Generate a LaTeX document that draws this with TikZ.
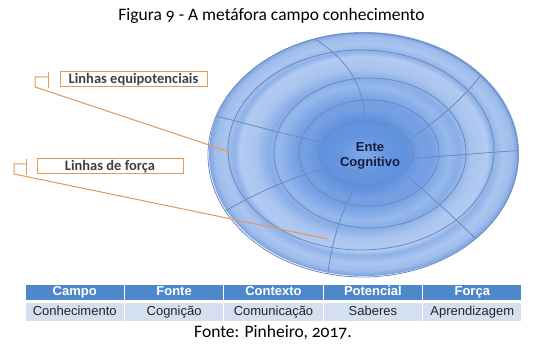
\documentclass[tikz,border=0pt]{standalone}
\usepackage{fontspec}
\setmainfont{Carlito}[Numbers=OldStyle]
\newfontfamily\arialfont{Liberation Sans}
\usetikzlibrary{positioning}

\definecolor{ringline}{RGB}{108,138,188}
\definecolor{calloutorange}{RGB}{230,152,88}
\definecolor{headblue}{RGB}{78,136,203}
\definecolor{rowblue}{RGB}{212,223,240}
\definecolor{entenavy}{RGB}{20,30,60}
% sphere tones, rim to centre
\definecolor{tone0}{RGB}{128,165,226}
\definecolor{tone1}{RGB}{160,190,236}
\definecolor{tone2}{RGB}{170,198,240}
\definecolor{tone3}{RGB}{142,178,232}
\definecolor{tone4}{RGB}{178,203,242}
\definecolor{tone5}{RGB}{168,196,239}
\definecolor{tone6}{RGB}{136,173,231}
\definecolor{tone7}{RGB}{150,184,236}
\definecolor{tone8}{RGB}{116,159,228}
\definecolor{tone9}{RGB}{118,160,228}
\definecolor{tone10}{RGB}{96,145,222}
\definecolor{tone11}{RGB}{104,151,225}
\definecolor{tone12}{RGB}{126,168,232}

\tikzset{
  ring/.style={draw=ringline, line width=0.8pt},
  callout/.style={draw=calloutorange, line width=1pt, inner sep=0pt,
    font=\bfseries\fontsize{14.5}{15}\selectfont, text=black!75},
  leader/.style={draw=calloutorange, line width=1pt},
  headcell/.style={fill=headblue, draw=white, line width=1.2pt, text=white,
    minimum width=99.4pt, minimum height=17pt, inner sep=0pt,
    text height=9.5pt, text depth=2.7pt,
    font=\arialfont\bfseries\fontsize{13}{15}\selectfont},
  valcell/.style={fill=rowblue, draw=white, line width=1.2pt, text=black!85,
    minimum width=99.4pt, minimum height=19pt, inner sep=0pt,
    text height=9.5pt, text depth=2.7pt,
    font=\arialfont\fontsize{13}{15}\selectfont},
}

\begin{document}
\begin{tikzpicture}[x=1pt,y=1pt,yscale=-1,xscale=1]
\useasboundingbox (0,0) rectangle (536,344);

% title
\node (title) at (271.5,16) {\fontsize{17.5}{20}\selectfont Figura 9 - A metáfora campo conhecimento};

% field sphere, filled band by band
\foreach \ra/\rb/\ca/\cb in {1.00/0.96/tone0/tone1, 0.96/0.90/tone1/tone2, 0.90/0.84/tone2/tone3,
    0.84/0.80/tone3/tone4, 0.80/0.70/tone4/tone5, 0.70/0.62/tone5/tone6, 0.62/0.56/tone6/tone7,
    0.56/0.44/tone7/tone8, 0.44/0.38/tone8/tone9, 0.38/0.28/tone9/tone10, 0.28/0.15/tone10/tone11,
    0.15/0.02/tone11/tone12}{
  \foreach \k in {0,...,7}{
    \pgfmathsetmacro\f{\ra-(\ra-\rb)*\k/8}
    \pgfmathsetmacro\p{100-100*\k/8}
    \fill [\ca!\p!\cb] (364,154) ellipse [x radius=155*\f, y radius=122*\f];
  }
}
\begin{scope}
\clip (363,155) ellipse [x radius=155, y radius=122];
% field lines
\draw [ring] (365,121) .. controls (363,80) and (345,55) .. (300,30);
\draw [ring] (413,137) .. controls (440,118) and (470,95) .. (495,55);
\draw [ring] (417,158) .. controls (450,156) and (490,152) .. (530,150);
\draw [ring] (407,176) .. controls (430,196) and (460,222) .. (495,258);
\draw [ring] (355,186) .. controls (340,215) and (330,245) .. (326,290);
\draw [ring] (327,168) .. controls (290,178) and (255,192) .. (200,226);
\draw [ring] (320,142) .. controls (280,133) and (240,122) .. (200,112);
\end{scope}
% equipotential lines
\draw [ring] (366,153) ellipse [x radius=47, y radius=32];
\draw [ring] (369,153) ellipse [x radius=70, y radius=53];
\draw [ring] (370,153) ellipse [x radius=96, y radius=75];
\draw [ring] (361,150) ellipse [x radius=133, y radius=100];
\draw [ring] (363,155) ellipse [x radius=155, y radius=122];

\node [font=\arialfont\bfseries\fontsize{13}{15}\selectfont, text=entenavy, align=center]
  (ente) at (370,156) {Ente\\Cognitivo};

% callouts
\node [callout, minimum width=147pt, minimum height=15pt] (equip) at (133.5,79.5) {Linhas equipotenciais};
\node [callout, minimum width=146pt, minimum height=15pt] (forca) at (110,166.5) {Linhas de força};

\coordinate (equipbar) at (48,77);
\coordinate (equipcorner) at (35,77);
\coordinate (equipfoot) at (35,87);
\coordinate (equiptip) at (230,152);
\draw [leader] (48,72) -- (48,88);
\draw [leader] (equipbar) -- (equipcorner) -- (equipfoot) -- (equiptip);

\coordinate (forcabar) at (26,164);
\coordinate (forcacorner) at (14,164);
\coordinate (forcafoot) at (14,174);
\coordinate (forcatip) at (328,239);
\draw [leader] (26,159) -- (26,175);
\draw [leader] (forcabar) -- (forcacorner) -- (forcafoot) -- (forcatip);

% table
\foreach \i/\head/\val in {0/Campo/Conhecimento, 1/Fonte/Cognição, 2/Contexto/Comunicação,
    3/Potencial/Saberes, 4/Força/Aprendizagem}{
  \node [headcell] (head\i) at (74.7+99.4*\i,292.5) {\head};
  \node [valcell, below=0pt of head\i] (val\i) {\val};
}

% source
\node (fonte) at (273,333) {\fontsize{17.5}{20}\selectfont Fonte: Pinheiro, 2017.};
\end{tikzpicture}
\end{document}
